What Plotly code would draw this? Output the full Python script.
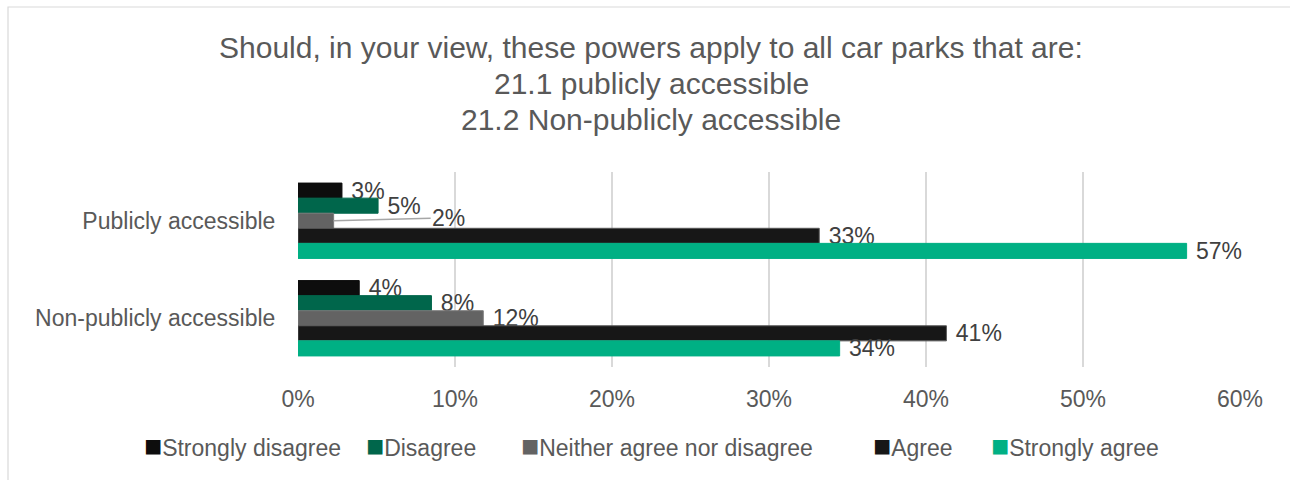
import plotly.graph_objects as go

# Survey responses (share of respondents) for each car park type
categories = ["Publicly accessible", "Non-publicly accessible"]
series_names = ["Strongly disagree", "Disagree", "Neither agree nor disagree", "Agree", "Strongly agree"]
strongly_disagree = [0.028, 0.039]
disagree = [0.051, 0.085]
neither = [0.0227, 0.118]
agree = [0.332, 0.413]
strongly_agree = [0.566, 0.345]
x_ticks = [0, 0.1, 0.2, 0.3, 0.4, 0.5, 0.6]
title_lines = [
    "Should, in your view, these powers apply to all car parks that are:",
    "21.1 publicly accessible",
    "21.2 Non-publicly accessible",
]

series_values = [strongly_disagree, disagree, neither, agree, strongly_agree]
colors = ["#0d0d0d", "#00664b", "#636363", "#171717", "#00b084"]
outline = ["#0d0d0d", "#00664b", "#7a7a7a", "#595959", "#00b084"]

FONT = "Liberation Sans, Arial, sans-serif"
LABEL_COLOR = "#404040"
TEXT_COLOR = "#595959"
FS = 23

plot_l, plot_r, plot_t, plot_b = 298, 1240, 172, 367
pw, ph = plot_r - plot_l, plot_b - plot_t


def py(pixel_y):
    """Pixel row -> paper y coordinate."""
    return (plot_b - pixel_y) / ph


def px(pixel_x):
    """Pixel column -> paper x coordinate."""
    return (pixel_x - plot_l) / pw


fig = go.Figure()
for i, (name, vals) in enumerate(zip(series_names, series_values)):
    # the small "Neither" value on the first row gets a leader-line label instead
    texts = []
    for j, v in enumerate(vals):
        if i == 2 and j == 0:
            texts.append("")
        else:
            texts.append("\u00a0" + f"{v:.0%}")
    fig.add_trace(go.Bar(
        name=name,
        y=categories,
        x=vals,
        orientation="h",
        marker=dict(color=colors[i], line=dict(color=outline[i], width=1)),
        text=texts,
        textposition="outside",
        constraintext="none",
        textfont=dict(family=FONT, size=FS, color=LABEL_COLOR),
        cliponaxis=False,
        showlegend=False,
    ))

# leader-line label for the small neutral share
fig.add_annotation(
    x=neither[0], y=categories[0],
    text=f"{neither[0]:.0%}",
    showarrow=True, arrowhead=0, arrowwidth=1.5, arrowcolor="#a6a6a6",
    ax=115, ay=-3, standoff=0,
    font=dict(family=FONT, size=FS, color=LABEL_COLOR),
)

# three-line chart title
for line, yc in zip(title_lines, [47, 83, 119]):
    fig.add_annotation(
        x=px(651), y=py(yc), xref="paper", yref="paper",
        text=line, showarrow=False, xanchor="center", yanchor="middle",
        font=dict(family=FONT, size=30, color=TEXT_COLOR),
    )

# legend row beneath the axis: coloured square followed by the series name
legend_x = [142, 364, 519, 871, 989]
for name, col, lx in zip(series_names, colors, legend_x):
    fig.add_annotation(
        x=px(lx), y=py(445), xref="paper", yref="paper",
        text=f'<span style="color:{col};font-size:30px">\u25a0</span>{name}',
        showarrow=False, xanchor="left", yanchor="middle",
        font=dict(family=FONT, size=FS, color=TEXT_COLOR),
    )

# outer chart border
fig.add_shape(
    type="rect", xref="paper", yref="paper",
    x0=px(8), x1=px(1300), y0=py(490), y1=py(7),
    line=dict(color="#d9d9d9", width=1.2), fillcolor="rgba(0,0,0,0)",
)

fig.update_layout(
    width=1290, height=480,
    margin=dict(l=plot_l, r=1290 - plot_r, t=plot_t, b=480 - plot_b),
    paper_bgcolor="white", plot_bgcolor="white",
    barmode="group", bargap=0.227, bargroupgap=0,
    font=dict(family=FONT, color=TEXT_COLOR),
    xaxis=dict(
        range=[0, 0.6], tickvals=x_ticks, tickformat=".0%",
        showgrid=True, gridcolor="#d9d9d9", gridwidth=1.5,
        zeroline=False, showline=False,
        tickfont=dict(family=FONT, size=FS, color=TEXT_COLOR),
        ticks="outside", ticklen=11, tickcolor="rgba(0,0,0,0)",
    ),
    yaxis=dict(
        autorange="reversed", showgrid=False, zeroline=False, showline=False,
        tickfont=dict(family=FONT, size=FS, color=TEXT_COLOR),
        ticks="outside", ticklen=17, tickcolor="rgba(0,0,0,0)",
    ),
    showlegend=False,
)

fig.write_html("out.html")
